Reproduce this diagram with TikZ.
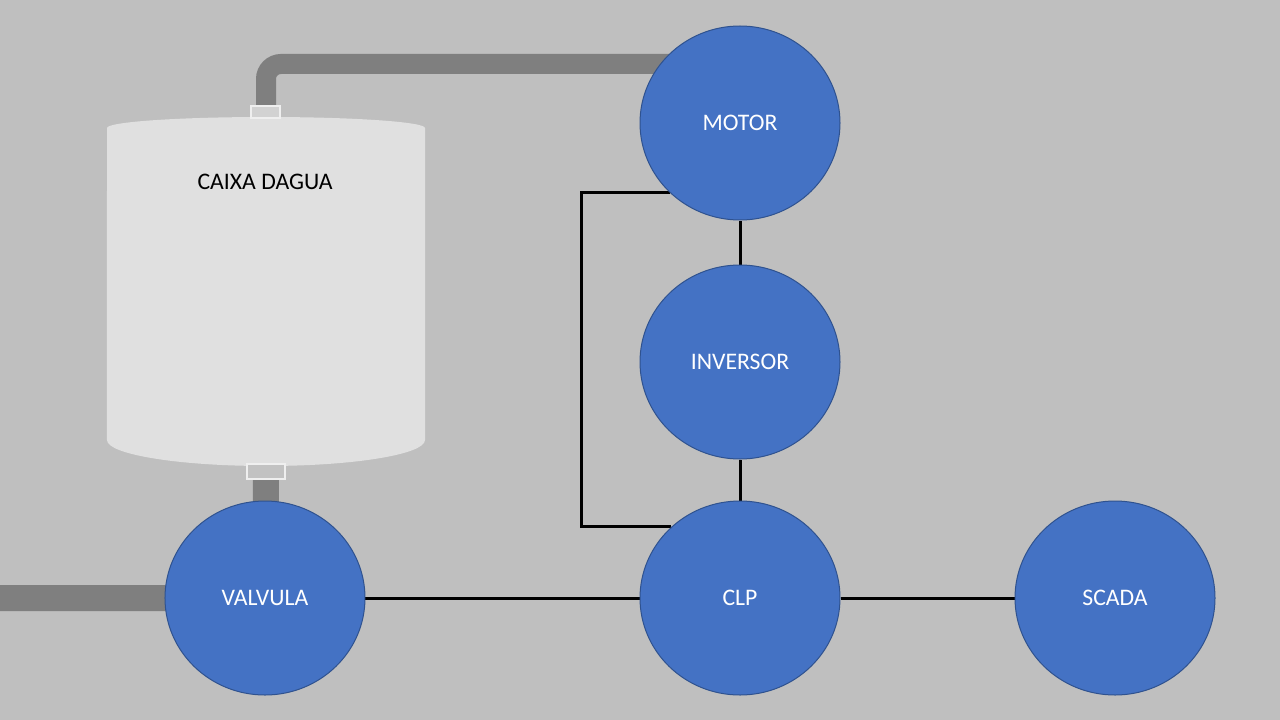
\documentclass[tikz,border=0pt]{standalone}
\usepackage{fontspec}
\setmainfont{Carlito}
\definecolor{scdblue}{HTML}{4472C4}
\definecolor{scdedge}{HTML}{2F528F}
\definecolor{scdbg}{HTML}{BFBFBF}
\definecolor{scdpipe}{HTML}{7F7F7F}
\definecolor{scdtank}{HTML}{E0E0E0}
\definecolor{scdfit}{HTML}{D2D2D2}
\usetikzlibrary{shapes.geometric,positioning,backgrounds}
\tikzset{
  unit/.style={ellipse,draw=scdedge,line width=0.2mm,fill=scdblue,
               text=white,minimum width=40mm,minimum height=38.8mm,
               inner sep=0pt,font=\fontsize{13.5}{16}\selectfont},
  wire/.style={black,line width=0.6mm},
  pipe/.style={scdpipe,line width=#1},
  pipe/.default=4mm,
  fitting/.style={fill=#1,draw=white!75!scdbg,line width=0.3mm},
  fitting/.default=scdfit,
}

\begin{document}
\begin{tikzpicture}[x=0.2mm,y=-0.2mm]
    \useasboundingbox (0,0) rectangle (1280,720);
    \node[unit] (motor) at (740,123) {MOTOR};
    \node[unit,below=8.8mm of motor] (inversor) {INVERSOR};
    \node[unit,below=8.2mm of inversor] (clp) {CLP};
    \node[unit,left=54.8mm of clp] (valvula) {VALVULA};
    \node[unit,right=34.8mm of clp] (scada) {SCADA};

    \begin{scope}[on background layer]
      \fill[scdbg] (0,0) rectangle (1280,720);
      % caixa d'agua
      \fill[scdtank] (107,128)
        arc[start angle=180,end angle=0,x radius=31.8mm,y radius=2.2mm]
        -- (425,440)
        arc[start angle=0,end angle=-180,x radius=31.8mm,y radius=5.2mm]
        -- cycle;
      \draw[pipe,rounded corners=3mm] (266,112) -- (266,64) -- (motor.center |- 0,64);
      \draw[pipe=5.2mm] (266,479) -- (valvula.center);
      \draw[pipe=5.2mm] (0,598) -- (valvula.center);
      \draw[fitting] (251,106) rectangle (280,118);
      \draw[fitting=scdbg!95!white] (247,464) rectangle (285,479);
      % ligacoes
      \draw[wire] (motor.south) -- (inversor.north);
      \draw[wire] (inversor.south) -- (clp.north);
      \draw[wire] (valvula.east) -- (clp.west);
      \draw[wire] (clp.east) -- (scada.west);
      \draw[wire] (motor.225) -- ++(-89,0) |- (clp.134);
    \end{scope}
    \node[font=\fontsize{13.5}{16}\selectfont] (caixa) at (265,182) {CAIXA DAGUA};
\end{tikzpicture}
\end{document}
